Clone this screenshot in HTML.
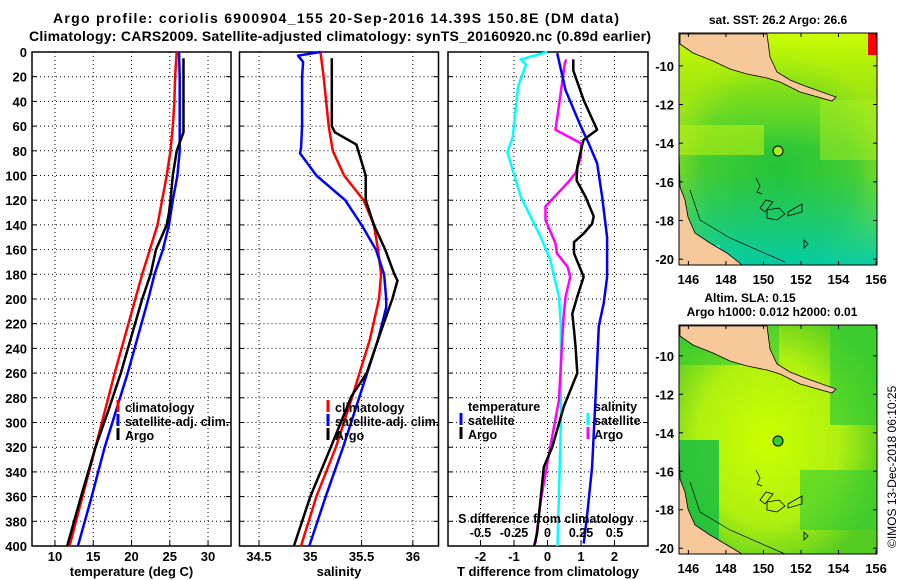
<!DOCTYPE html>
<html><head><meta charset="utf-8"><style>
html,body{margin:0;padding:0;background:#fff;}
svg{display:block;font-family:"Liberation Sans",sans-serif;font-weight:bold;}
</style></head><body>
<svg id="fig" width="900" height="580" viewBox="0 0 900 580" xmlns="http://www.w3.org/2000/svg">
<defs>
<radialGradient id="g1" cx="0.5" cy="0.6" r="0.55"><stop offset="0" stop-color="#22c43a"/><stop offset="0.7" stop-color="#44cc33"/><stop offset="1" stop-color="#88dd22"/></radialGradient>
<linearGradient id="tb" x1="0" y1="0" x2="0" y2="1"><stop offset="0" stop-color="#ccff00" stop-opacity="0.95"/><stop offset="0.25" stop-color="#bbf000" stop-opacity="0.5"/><stop offset="0.5" stop-color="#ccff00" stop-opacity="0"/></linearGradient>
<linearGradient id="bb" x1="0" y1="0" x2="0" y2="1"><stop offset="0.6" stop-color="#00c8a0" stop-opacity="0"/><stop offset="1" stop-color="#00ccaa" stop-opacity="0.95"/></linearGradient>
<radialGradient id="sl" cx="0.45" cy="0.5" r="0.6"><stop offset="0" stop-color="#ccff00"/><stop offset="0.6" stop-color="#b0f010"/><stop offset="1" stop-color="#55cc22"/></radialGradient>
</defs>
<text x="336" y="23" text-anchor="middle" font-size="14" textLength="566">Argo profile: coriolis 6900904_155 20-Sep-2016 14.39S 150.8E (DM data)</text>
<text x="340" y="41" text-anchor="middle" font-size="14" textLength="622">Climatology: CARS2009. Satellite-adjusted climatology: synTS_20160920.nc (0.89d earlier)</text>
<g id="charts"></g>

<!-- SST map -->
<g>
<text x="778" y="24" text-anchor="middle" font-size="12">sat. SST: 26.2 Argo: 26.6</text>
<rect x="679" y="33" width="198" height="232" fill="url(#g1)"/>
<rect x="679" y="33" width="198" height="232" fill="url(#tb)"/>
<rect x="679" y="33" width="198" height="232" fill="url(#bb)"/>
<rect x="679" y="125" width="85" height="30" fill="#bbf010" opacity="0.6"/>
<rect x="820" y="100" width="57" height="60" fill="#aaee22" opacity="0.5"/>
<rect x="690" y="245" width="30" height="12" fill="#00ffee"/>
<rect x="868" y="33" width="9" height="22" fill="#ff0000"/>
<polygon points="680,34 767,34 770,57 777,72 790,80 805,86 836,97 832,101 800,92 780,82 767,78 747,74 730,69 713,61 693,53 680,44" fill="#f7c89a" stroke="#000" stroke-width="0.8"/>
<polygon points="679,152 680,187 685,200 688,217 695,233 710,243 727,253 742,265 679,265" fill="#f7c89a" stroke="#000" stroke-width="0.8"/>
<path d="M690,190 L700,220 730,238 785,262" fill="none" stroke="#000" stroke-width="0.7"/>
<path d="M756,178 l4,8 -3,6 5,2 M766,200 l-6,8 5,4 8,-10z M767,210 l12,-2 6,6 -8,6 -10,-2z M788,212 l14,-8 0,8 -14,4z M804,240 l4,4 -4,4z" fill="none" stroke="#000" stroke-width="0.8"/>
<circle cx="778" cy="151" r="5" fill="#aaee22" stroke="#000" stroke-width="1"/>
<rect x="679" y="33" width="198" height="232" fill="none" stroke="#000" stroke-width="1"/>
<g id="sstTicks"></g>
</g>

<!-- SLA map -->
<g>
<text x="750" y="302" text-anchor="middle" font-size="12">Altim. SLA: 0.15</text>
<text x="772" y="316" text-anchor="middle" font-size="12">Argo h1000: 0.012 h2000: 0.01</text>
<rect x="679" y="325" width="198" height="229" fill="url(#sl)"/>
<rect x="679" y="325" width="100" height="40" fill="#33cc33" opacity="0.6"/>
<rect x="830" y="325" width="47" height="100" fill="#33cc33" opacity="0.7"/>
<rect x="679" y="440" width="40" height="114" fill="#11bb44" opacity="0.8"/>
<rect x="800" y="470" width="77" height="60" fill="#33cc33" opacity="0.6"/>
<polygon points="680,326 767,326 770,349 777,364 790,372 805,378 836,389 832,393 800,384 780,374 767,370 747,366 730,361 713,353 693,345 680,336" fill="#f7c89a" stroke="#000" stroke-width="0.8"/>
<polygon points="679,444 680,479 685,492 688,509 695,525 710,535 727,545 742,554 679,554" fill="#f7c89a" stroke="#000" stroke-width="0.8"/>
<path d="M690,482 L700,512 730,530 785,554" fill="none" stroke="#000" stroke-width="0.7"/>
<path d="M756,470 l4,8 -3,6 5,2 M766,492 l-6,8 5,4 8,-10z M767,502 l12,-2 6,6 -8,6 -10,-2z M788,504 l14,-8 0,8 -14,4z M804,532 l4,4 -4,4z" fill="none" stroke="#000" stroke-width="0.8"/>
<circle cx="778" cy="441" r="5" fill="#33cc33" stroke="#000" stroke-width="1"/>
<rect x="679" y="325" width="198" height="229" fill="none" stroke="#000" stroke-width="1"/>
<g id="slaTicks"></g>
</g>
<text x="0" y="0" font-size="12" font-weight="normal" transform="translate(896,548) rotate(-90)">©IMOS 13-Dec-2018 06:10:25</text>
</svg>
<script>
// ---------- data ----------
const depthTicks = [0,20,40,60,80,100,120,140,160,180,200,220,240,260,280,300,320,340,360,380,400];
const tempTicks = [10,15,20,25,30];
const salTicks = [34.5,35,35.5,36];
const tdiffTicks = [-2,-1,0,1,2];
const sdiffTicks = [-0.5,-0.25,0,0.25,0.5];
const sdiffLabels = ["-0.5","-0.25","0","0.25","0.5"];

const climTDepth = [0,20,40,60,80,100,120,140,160,180,200,260,320,360,400];
const climT = [25.9,25.7,25.6,25.4,25.1,24.6,24.0,23.4,22.4,21.4,20.5,17.8,15.3,13.6,11.9];
const satTDepth = [0,20,60,80,100,120,140,160,180,200,260,320,360,400];
const satT = [26.2,26.3,26.3,26.3,26.0,25.4,24.9,24.1,23.0,22.2,19.5,16.5,14.8,13.0];
const argoTDepth = [5,65,80,100,120,130,140,160,180,200,260,290,320,360,400];
const argoT = [26.8,26.8,25.9,25.4,25.1,24.9,24.6,23.2,22.5,21.4,18.6,17.0,15.3,13.4,11.6];

const climSDepth = [0,20,60,80,100,120,140,160,180,200,233,279,320,360,400];
const climS = [35.10,35.13,35.18,35.22,35.33,35.52,35.62,35.66,35.69,35.67,35.58,35.41,35.25,35.06,34.91];
const satSDepth = [0,3,8,20,60,78,82,100,120,140,160,180,200,207,233,279,320,360,400];
const satS = [35.10,34.88,34.93,34.92,34.92,34.91,34.90,35.06,35.34,35.50,35.64,35.72,35.74,35.74,35.66,35.48,35.32,35.15,34.99];
const argoSDepth = [5,60,65,75,100,120,140,160,180,185,200,233,260,279,320,360,400];
const argoS = [35.21,35.21,35.24,35.45,35.54,35.54,35.62,35.73,35.82,35.85,35.80,35.66,35.55,35.40,35.20,35.00,34.84];

const satTdDepth = [1,31,60,74,90,117,150,182,203,222,282,336,376,398];
const satTd = [0.29,0.54,0.99,1.23,1.48,1.63,1.78,1.78,1.68,1.53,1.43,1.33,1.18,1.08];
const argoTdDepth = [6,15,39,63,71,75,93,104,117,133,139,147,154,163,182,198,212,225,239,260,287,320,336,390,400];
const argoTd = [0.77,0.77,1.08,1.48,1.08,1.04,0.89,0.87,1.13,1.38,1.33,1.08,0.79,0.79,1.08,0.89,0.74,0.79,0.84,0.89,0.49,0.14,-0.11,-0.31,-0.4];
const satSdDepth = [0,6,10,28,69,81,117,150,168,198,222,300,400];
const satSd = [0,-0.2,-0.16,-0.22,-0.26,-0.3,-0.2,-0.05,0.02,0.085,0.1,0.1,0.075];
const argoSdDepth = [6,9,63,74,85,98,106,125,136,155,163,174,182,198,214,282,320,363,398];
const argoSd = [0.14,0.13,0.06,0.25,0.25,0.21,0.15,-0.015,-0.015,0.06,0.07,0.15,0.17,0.135,0.12,0.085,0.02,-0.05,-0.09];

const lonTicks = [146,148,150,152,154,156];
const latTicks = [-10,-12,-14,-16,-18,-20];

// ---------- helpers ----------
const NS = "http://www.w3.org/2000/svg";
const root = document.getElementById('charts');
function mk(tag, attrs, parent){
  const e = document.createElementNS(NS, tag);
  for (const k in attrs) e.setAttribute(k, attrs[k]);
  (parent||root).appendChild(e);
  return e;
}
const Y0 = 52, Y1 = 546;
const yScale = d => Y0 + (d/400)*(Y1-Y0);

function panel(name, x0, x1, vmin, vmax){
  const xs = v => x0 + (v-vmin)/(vmax-vmin)*(x1-x0);
  const g = mk('g', {});
  
  
  return {g, xs, x0, x1};
}
function grid(p, xt, showY){
  depthTicks.forEach(d => {
    const y = yScale(d);
    if (d>0 && d<400) {
      const l = mk('line', {x1:p.x0, x2:p.x1, y1:y, y2:y, stroke:'#000','stroke-width':1,'stroke-dasharray':'1,3'}, p.g);
      
      
    }
    mk('line', {x1:p.x0, x2:p.x0+5, y1:y, y2:y, stroke:'#000'}, p.g);
    mk('line', {x1:p.x1-5, x2:p.x1, y1:y, y2:y, stroke:'#000'}, p.g);
    if (showY) {
      const t = mk('text', {x:27, y:y+5, 'text-anchor':'end', 'font-size':13}, p.g);
      t.textContent = d;
      
      
    }
  });
  xt.forEach(v => {
    const x = p.xs(v);
    const l = mk('line', {x1:x, x2:x, y1:Y0, y2:Y1, stroke:'#000','stroke-width':1,'stroke-dasharray':'1,3'}, p.g);
    
    
    mk('line', {x1:x, x2:x, y1:Y1-5, y2:Y1, stroke:'#000'}, p.g);
    const t = mk('text', {x:x, y:561, 'text-anchor':'middle', 'font-size':13}, p.g);
    t.textContent = v;
    
    
  });
  const fr = mk('rect', {x:p.x0, y:Y0, width:p.x1-p.x0, height:Y1-Y0, fill:'none', stroke:'#000','stroke-width':1.5}, p.g);
  
  
}
function series(p, depths, vals, color, name, scale){
  const f = scale || (v=>v);
  const pts = depths.map((d,i) => p.xs(f(vals[i])).toFixed(1)+','+yScale(d).toFixed(1)).join(' ');
  const l = mk('polyline', {points:pts, fill:'none', stroke:color, 'stroke-width':2.5, 'stroke-linejoin':'round'}, p.g);
  
  
}
function legendEntry(p, mx, tx, y, color, label, name){
  if (color) mk('rect', {x:mx-1.5, y:y-7, width:3, height:12, fill:color}, p.g);
  const t = mk('text', {x:tx, y:y+5, 'font-size':12.5}, p.g);
  t.textContent = label;
  
  
}
function axisTitle(p, label, name){
  const t = mk('text', {x:(p.x0+p.x1)/2, y:576, 'text-anchor':'middle', 'font-size':13}, p.g);
  t.textContent = label;
  
  
}

// Panel 1: temperature
const p1 = panel('temperature-panel', 32, 231, 7, 33);
grid(p1, tempTicks, true);
series(p1, climTDepth, climT, '#ff0000', 'temp-climatology-line');
series(p1, satTDepth, satT, '#0000ff', 'temp-satellite-line');
series(p1, argoTDepth, argoT, '#000000', 'temp-argo-line');
legendEntry(p1, 118, 125, 407, '#ff0000', 'climatology', 'legend-climatology');
legendEntry(p1, 118, 125, 421, '#0000ff', 'satellite-adj. clim.', 'legend-satellite-adj');
legendEntry(p1, 118, 125, 435, '#000000', 'Argo', 'legend-argo');
axisTitle(p1, 'temperature (deg C)', 'temperature-axis-title');

// Panel 2: salinity
const p2 = panel('salinity-panel', 239.5, 438.5, 34.31, 36.25);
grid(p2, salTicks, false);
series(p2, climSDepth, climS, '#ff0000', 'sal-climatology-line');
series(p2, satSDepth, satS, '#0000ff', 'sal-satellite-line');
series(p2, argoSDepth, argoS, '#000000', 'sal-argo-line');
legendEntry(p2, 328, 335, 407, '#ff0000', 'climatology', 'legend-climatology');
legendEntry(p2, 328, 335, 421, '#0000ff', 'satellite-adj. clim.', 'legend-satellite-adj');
legendEntry(p2, 328, 335, 435, '#000000', 'Argo', 'legend-argo');
axisTitle(p2, 'salinity', 'salinity-axis-title');

// Panel 3: differences
const p3 = panel('difference-panel', 448, 648, -2.97, 3.0);
grid(p3, tdiffTicks, false);
const s4 = v => v*4;
series(p3, satSdDepth, satSd, '#00ffff', 'sdiff-satellite-line', s4);
series(p3, argoSdDepth, argoSd, '#ff00ff', 'sdiff-argo-line', s4);
series(p3, satTdDepth, satTd, '#0000ff', 'tdiff-satellite-line');
series(p3, argoTdDepth, argoTd, '#000000', 'tdiff-argo-line');
legendEntry(p3, 0, 468, 406, null, 'temperature', 'legend-temperature-header');
legendEntry(p3, 461, 468, 420, '#0000ff', 'satellite', 'legend-tdiff-satellite');
legendEntry(p3, 461, 468, 434, '#000000', 'Argo', 'legend-tdiff-argo');
legendEntry(p3, 0, 594, 406, null, 'salinity', 'legend-salinity-header');
legendEntry(p3, 588, 594, 420, '#00ffff', 'satellite', 'legend-sdiff-satellite');
legendEntry(p3, 588, 594, 434, '#ff00ff', 'Argo', 'legend-sdiff-argo');
sdiffTicks.forEach((v,i) => {
  const t = mk('text', {x:p3.xs(v*4), y:537, 'text-anchor':'middle', 'font-size':12.5}, p3.g);
  t.textContent = sdiffLabels[i];
  
  
});
{
  const t = mk('text', {x:546, y:523, 'text-anchor':'middle', 'font-size':12.5}, p3.g);
  t.textContent = 'S difference from climatology';
  
  
}
axisTitle(p3, 'T difference from climatology', 'tdiff-axis-title');

// Map ticks
function mapTicks(gid, top, bottom, latTop, latBot){
  const g = document.getElementById(gid);
  const lx = lon => 679 + (lon-145.5)/(156.05-145.5)*198;
  const ly = lat => top + (latTop-lat)/(latTop-latBot)*(bottom-top);
  lonTicks.forEach(v => {
    const x = lx(v);
    mk('line', {x1:x, x2:x, y1:top, y2:top+4, stroke:'#000'}, g);
    mk('line', {x1:x, x2:x, y1:bottom-4, y2:bottom, stroke:'#000'}, g);
    const t = mk('text', {x:x, y:bottom+19, 'text-anchor':'middle', 'font-size':13}, g);
    t.textContent = v;
    
    
  });
  latTicks.forEach(v => {
    const y = ly(v);
    mk('line', {x1:679, x2:683, y1:y, y2:y, stroke:'#000'}, g);
    mk('line', {x1:873, x2:877, y1:y, y2:y, stroke:'#000'}, g);
    const t = mk('text', {x:674, y:y+5, 'text-anchor':'end', 'font-size':13}, g);
    t.textContent = v;
    
    
  });
}
mapTicks('sstTicks', 33, 265, -8.3, -20.3);
mapTicks('slaTicks', 325, 554, -8.4, -20.3);
</script>
</body></html>
